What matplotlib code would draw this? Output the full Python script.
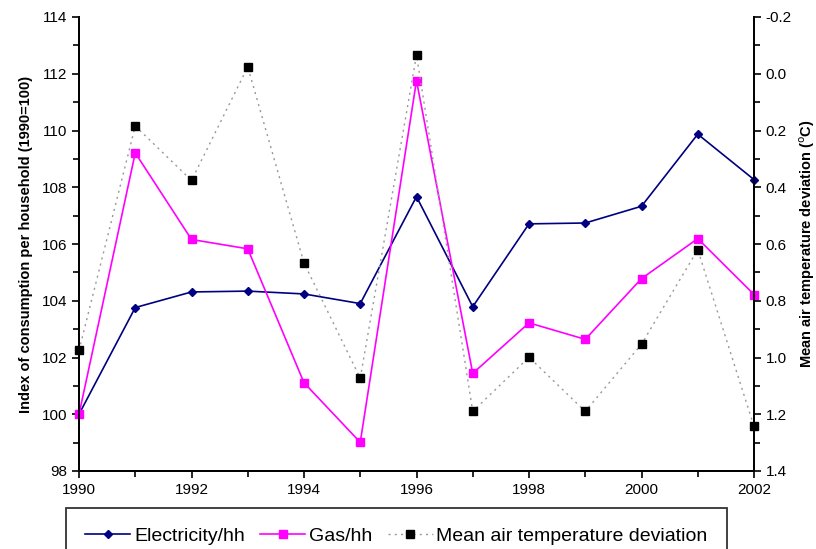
import matplotlib
matplotlib.use("Agg")
import matplotlib.pyplot as plt
from matplotlib.ticker import MultipleLocator

plt.rcParams["font.family"] = ["Liberation Sans", "DejaVu Sans"]

# Dados
years = list(range(1990, 2003))
electricity_hh = [100.0, 103.76, 104.31, 104.34, 104.24, 103.90, 107.67,
                  103.79, 106.71, 106.74, 107.33, 109.87, 108.27]
gas_hh = [100.0, 109.21, 106.16, 105.83, 101.11, 99.01, 111.76,
          101.44, 103.22, 102.64, 104.78, 106.19, 104.22]
temp_dev = [0.975, 0.184, 0.376, -0.024, 0.667, 1.073, -0.066,
            1.19, 0.999, 1.19, 0.953, 0.62, 1.243]

fig = plt.figure(figsize=(8.16, 5.49), dpi=100)
ax = fig.add_axes([79 / 816, 1 - 471 / 549, 675 / 816, 454 / 549])
ax2 = ax.twinx()

l1, = ax.plot(years, electricity_hh, color="#000080", lw=1.2, marker="D",
              ms=4, label="Electricity/hh", zorder=3, clip_on=False)
l2, = ax.plot(years, gas_hh, color="#ff00ff", lw=1.2, marker="s",
              ms=6, label="Gas/hh", zorder=3, clip_on=False)
l3, = ax2.plot(years, temp_dev, color="#999999", lw=1.0, ls=(0, (1.5, 3)),
               marker="s", ms=6, mfc="black", mec="black",
               label="Mean air temperature deviation", clip_on=False)

ax.set_xlim(1990, 2002)
ax.set_ylim(98, 114)
ax2.set_ylim(1.4, -0.2)

ax.xaxis.set_major_locator(MultipleLocator(2))
ax.xaxis.set_minor_locator(MultipleLocator(1))
ax.yaxis.set_major_locator(MultipleLocator(2))
ax.yaxis.set_minor_locator(MultipleLocator(1))
ax2.yaxis.set_major_locator(MultipleLocator(0.2))
ax2.yaxis.set_minor_locator(MultipleLocator(0.1))
ax2.yaxis.set_major_formatter(plt.FuncFormatter(lambda v, p: f"{v:.1f}"))

for a in (ax, ax2):
    a.tick_params(which="both", direction="out", labelsize=11, width=1.2)
    a.tick_params(which="major", length=5)
    a.tick_params(which="minor", length=4)
    a.spines["top"].set_visible(False)
    for s in ("left", "right", "bottom"):
        a.spines[s].set_linewidth(1.3)

ax.set_ylabel("Index of consumption per household (1990=100)",
              fontsize=10.5, fontweight="bold", labelpad=6)
ax2.set_ylabel("Mean air temperature deviation ($^{\\mathrm{o}}$C)",
               fontsize=10.5, fontweight="bold", labelpad=4)

# legenda encostada na borda de baixo (cortada como no original)
leg = fig.legend(handles=[l1, l2, l3], loc="upper left",
                 bbox_to_anchor=(66 / 816, 1 - 508 / 549), ncol=3,
                 fontsize=14, frameon=True, fancybox=False, edgecolor="black",
                 handlelength=2.3, columnspacing=0.8, borderpad=1.0,
                 handletextpad=0.2, borderaxespad=0)
leg.get_frame().set_linewidth(1.3)

fig.savefig("out.png", dpi=100)
